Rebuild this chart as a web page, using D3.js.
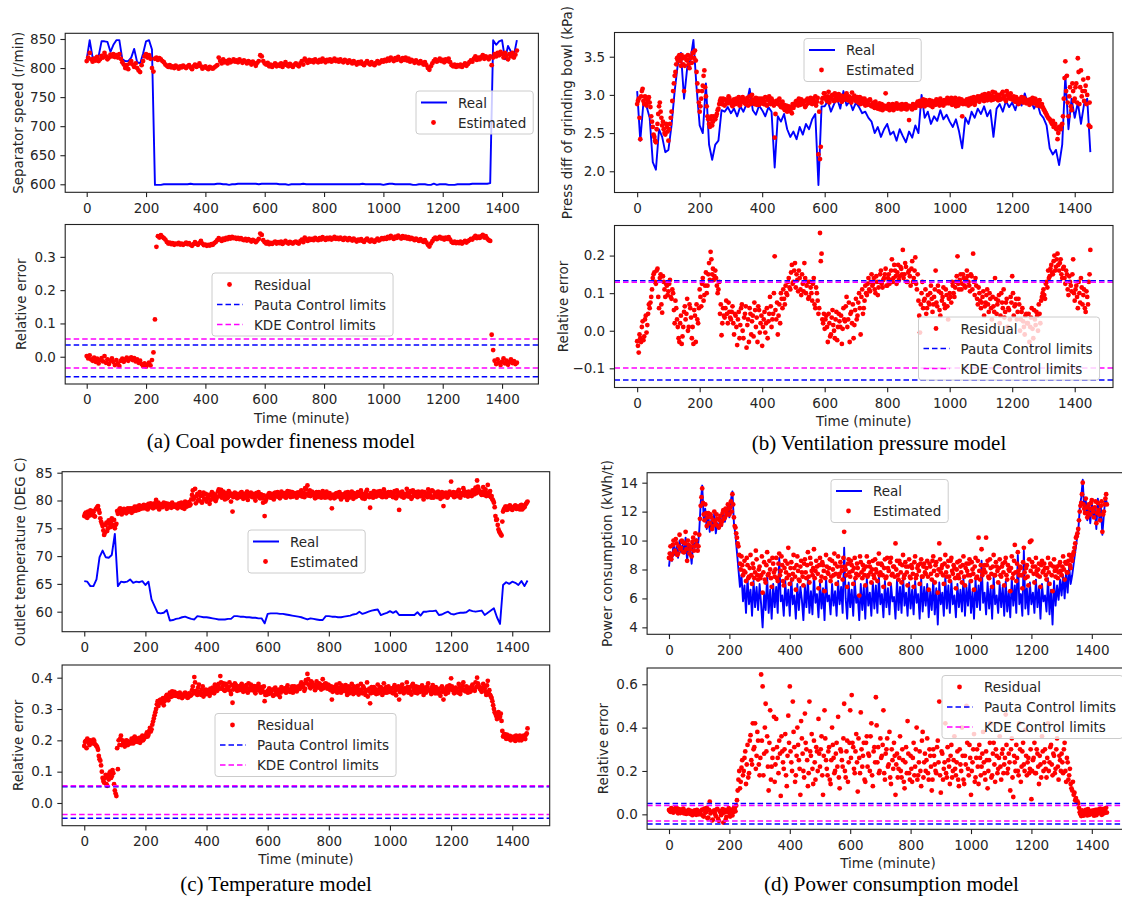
<!DOCTYPE html>
<html>
<head>
<meta charset="utf-8">
<title>Residual charts of four models</title>
<script src="https://cdn.jsdelivr.net/npm/d3@7"></script>
<style>
  body { margin: 0; background: #fff; }
  svg text { font-family: "DejaVu Sans", sans-serif; fill: #262626; }
</style>
</head>
<body>
<svg width="1122" height="898"></svg>
<script>
// sampling times in minutes
var t5 = d3.range(0, 1451, 5);
var t5b = d3.range(2.5, 1450, 5);   // in-between samples for the dense clouds
var t10 = d3.range(0, 1451, 10);
var xTicks = [0, 200, 400, 600, 800, 1000, 1200, 1400];

// (a) coal powder fineness: separator speed
var aReal = [815,848,818,818,820,846,846,845,828,840, 848,848,815,812,812,818,833,810,808,825, 846,848,832,
  599,599,599,600,600,600,600,600,600,600, 600,600,601,600,600,600,600,600,600,600,
  600,601,601,600,600,599,600,600,601,601, 601,601,601,601,601,600,601,601,601,601,
  601,601,600,600,600,599,600,600,600,600, 601,600,600,600,600,600,600,600,600,600,
  600,600,600,600,600,600,600,600,600,600, 601,600,600,600,600,600,600,599,600,601,
  601,600,600,600,600,600,600,599,599,600, 600,600,599,599,601,599,600,600,600,599,
  599,599,600,600,600,600,600,601,601,601, 601,601,601,
  602,848,840,846,848,815,838,828,822,848];
var aEst = [812,818,826,815,811,816,813,819,812,815, 821,818,826,820,815,818,823,820,824,819,
  822,818,824,816,810,806,800,805,798,808, 812,806,802,808,800,796,793,805,812,820, 824,818,822,816,800,794,
  816,818,814,817,815,812,810,806,804,802, 805,801,803,800,804,802,799,803,801,804,
  802,800,803,805,801,798,803,806,802,804, 808,803,799,801,803,800,798,802,800,799, 801,803,805,
  818,812,808,815,810,812,808,814,810,812, 815,811,813,810,815,812,809,813,811,808,
  812,810,806,811,808,804,809,812,822,820, 812,808,806,809,803,806,802,805,808,803,
  806,804,808,802,806,810,805,803,807,804, 802,806,
  808,805,803,808,812,806,816,812,809,814, 811,813,810,815,812,810,814,811,816,813,
  810,814,812,815,811,813,816,812,814,811, 815,812,810,814,812,809,813,811,808,812,
  809,806,810,808,811,807,805,809,812,808, 806,810,807,805,809,812,808,810,813,811,
  814,812,816,813,818,815,812,817,814,819, 815,812,817,814,818,813,816,811,814,812,
  809,813,810,808,812,809,806,810,805,800, 797,803,808,812,815,811,813,816,812,814,
  810,815,812,816,810,805,803,806,802,
  805,803,806,802,805,808,804,807,810,813, 811,816,820,814,818,815,819,822,816,820,
  818,815,820,805,818,824,820,826,822,828, 824,818,826,821,815,824,820,826,818,823, 830];
var aRes = [0.002,-0.005,0.004,-0.008,-0.012,-0.003,-0.015,-0.006,-0.020,-0.010,
  -0.004,-0.014,0.002,-0.018,-0.008,-0.022,-0.012,-0.005,-0.016,-0.025,
  -0.010,-0.020,-0.028,-0.012,-0.006,-0.015,-0.008,-0.003,-0.012,-0.006,
  -0.002,-0.010,-0.004,-0.014,-0.008,-0.018,-0.012,-0.022,-0.028,-0.020,
  -0.030,-0.024,-0.018,-0.026,-0.010,0.013,
  0.112,0.330,0.362,0.358,0.365,0.360,0.356,0.352,0.345,0.340,
  0.343,0.338,0.341,0.336,0.340,0.338,0.342,0.337,0.340,0.336,
  0.339,0.343,0.338,0.341,0.336,0.333,0.338,0.344,0.339,0.336,
  0.342,0.348,0.340,0.335,0.337,0.333,0.336,0.334,0.338,0.336, 0.341,0.345,0.350,
  0.356,0.352,0.348,0.355,0.351,0.357,0.353,0.359,0.355,0.360,
  0.356,0.358,0.354,0.357,0.353,0.356,0.352,0.350,0.354,0.349,
  0.353,0.350,0.346,0.351,0.348,0.344,0.349,0.354,0.370,0.366,
  0.350,0.344,0.340,0.345,0.338,0.342,0.339,0.343,0.346,0.340,
  0.344,0.341,0.346,0.339,0.343,0.348,0.343,0.340,0.345,0.342, 0.340,0.344,
  0.346,0.342,0.340,0.347,0.352,0.344,0.358,0.352,0.348,0.355,
  0.351,0.354,0.350,0.357,0.353,0.350,0.356,0.352,0.359,0.355,
  0.351,0.357,0.353,0.358,0.352,0.355,0.360,0.354,0.357,0.353,
  0.358,0.354,0.351,0.357,0.354,0.350,0.356,0.353,0.349,0.355,
  0.350,0.346,0.352,0.349,0.353,0.348,0.345,0.351,0.355,0.349,
  0.346,0.352,0.348,0.345,0.350,0.355,0.349,0.352,0.356,0.353,
  0.357,0.354,0.360,0.356,0.363,0.358,0.354,0.361,0.357,0.364,
  0.359,0.355,0.362,0.357,0.361,0.355,0.359,0.353,0.357,0.354,
  0.350,0.355,0.351,0.348,0.353,0.349,0.345,0.350,0.343,0.336,
  0.331,0.340,0.347,0.354,0.358,0.353,0.356,0.360,0.355,0.357,
  0.352,0.358,0.354,0.359,0.352,0.345,0.342,0.346,0.341,
  0.344,0.341,0.346,0.340,0.344,0.348,0.343,0.347,0.350,0.354,
  0.352,0.358,0.363,0.356,0.361,0.357,0.362,0.366,0.358,0.362,
  0.355,0.350,0.348,0.066,0.020,-0.012,-0.022,-0.008,-0.018,-0.025,
  -0.015,-0.005,-0.020,-0.012,-0.024,-0.016,-0.008,-0.019,-0.013,-0.022, -0.018];
var aPauta = [0.035, -0.060];
var aKde = [0.053, -0.034];

// (b) ventilation pressure: press diff of grinding bowl
var bReal = [3.05,2.40,2.90,2.85,2.70,2.12,2.02,2.55,2.45,2.25,
  2.28,2.60,3.05,3.40,3.55,2.95,3.35,3.45,3.72,3.10,
  2.60,2.50,3.15,2.35,2.15,2.35,2.40,2.80,2.78,2.84,
  2.76,2.82,2.72,2.85,2.78,2.88,3.08,2.80,2.74,2.86,
  2.80,2.72,2.84,2.78,2.05,2.72,2.65,2.75,2.55,2.45,
  2.52,2.42,2.58,2.48,2.62,2.55,2.68,2.75,1.82,2.85,
  2.85,2.92,2.78,2.88,2.95,2.82,3.05,2.86,2.92,2.80,
  2.90,2.84,2.76,2.78,2.70,2.65,2.50,2.58,2.45,2.55,
  2.62,2.48,2.52,2.40,2.55,2.46,2.38,2.52,2.44,2.60,
  2.50,3.00,2.70,2.78,2.62,2.72,2.66,2.80,2.68,2.74,
  2.65,2.58,2.68,2.52,2.30,2.70,2.62,2.78,2.70,2.82,
  2.75,2.85,2.72,2.80,2.45,2.82,2.88,2.78,2.92,2.84,
  2.90,2.80,2.95,2.86,3.02,2.88,2.92,2.82,2.90,2.75,
  2.70,2.60,2.30,2.22,2.28,2.08,2.35,3.25,2.55,2.95,
  2.70,2.90,2.62,2.88,2.95,2.25];
var bEst = [2.88,2.95,2.42,3.05,2.92,2.98,2.86,2.94,2.90,2.72,
  2.58,2.45,2.38,2.62,2.85,2.78,2.60,2.55,2.48,2.58,
  2.40,2.62,2.78,3.05,3.25,3.40,3.45,3.52,3.38,3.48,
  3.05,3.50,3.45,3.40,3.48,3.42,3.55,3.58,3.30,3.05,
  2.78,2.95,3.12,3.32,2.98,2.72,2.62,2.68,2.60,2.72,
  2.68,2.75,2.82,2.92,2.88,2.95,2.86,2.93,2.89,2.96,
  2.90,2.85,2.94,2.88,2.92,2.97,2.87,2.91,2.95,2.89,
  2.93,2.86,2.98,2.90,2.94,2.88,2.96,2.91,2.87,2.95,
  2.92,2.88,2.97,2.86,2.93,2.90,2.95,2.89,2.44,2.92,
  2.88,2.95,2.84,2.91,2.87,2.82,2.78,2.85,2.80,2.76,
  2.83,2.88,2.92,2.86,2.90,2.94,2.88,2.92,2.86,2.95,
  2.90,2.96,2.88,2.93,2.98,2.91,2.22,2.16,2.90,2.96,
  3.02,2.94,2.98,2.90,2.96,3.00,2.92,2.97,2.93,3.01,
  2.95,2.91,2.98,2.94,3.02,2.93,2.97,2.90,2.96,2.99,
  2.92,2.97,2.93,2.88,2.95,2.91,2.86,2.92,2.88,2.94,
  2.85,2.90,2.83,2.87,2.82,2.89,2.84,2.80,2.86,3.02,
  2.84,2.88,2.82,2.86,2.80,2.85,2.89,2.83,2.87,2.81,
  2.86,2.82,2.88,2.84,2.67,2.85,2.81,2.87,2.83,2.89,
  2.86,2.92,2.88,2.94,2.85,2.90,2.87,2.93,2.89,2.84,
  2.91,2.87,2.93,2.88,2.95,2.90,2.86,2.92,2.89,2.94,
  2.90,2.96,2.88,2.93,2.85,2.91,2.95,2.89,2.72,2.92,
  2.88,2.94,2.86,2.92,2.96,2.90,2.87,2.93,2.98,2.91,
  2.95,3.00,2.92,2.97,2.93,3.02,2.96,2.99,2.94,3.03,
  2.97,2.93,3.00,2.95,3.04,2.98,2.92,3.01,2.96,3.02,
  2.94,2.98,2.91,2.95,2.88,2.93,2.97,2.90,2.94,2.89,
  2.93,2.87,2.92,2.96,2.89,2.94,2.86,2.91,2.85,2.88,
  2.82,2.78,2.74,2.70,2.68,2.64,2.66,2.60,2.56,2.42,
  2.58,2.55,2.62,2.95,3.44,3.25,2.72,3.10,2.80,3.05,
  2.95,3.15,3.48,2.88,3.32,3.05,2.92,3.12,3.00,2.60, 2.58];
var bEst2 = [2.92,2.70,2.98,3.08,2.88,2.95,2.90,2.97,2.84,2.65,
  2.48,2.40,2.55,2.75,2.90,2.70,2.65,2.50,2.62,2.52,
  2.55,2.70,2.92,3.15,3.30,3.48,3.50,3.44,3.52,3.40,
  3.38,3.46,3.52,3.35,3.50,3.55,3.48,3.45,3.15,2.90,
  2.85,3.05,3.25,3.10,2.85,2.68,2.58,2.72,2.65,2.70,
  2.72,2.80,2.88,2.95,2.91,2.87,2.94,2.90,2.98,2.92,
  2.87,2.93,2.89,2.95,2.90,2.86,2.94,2.97,2.91,2.88,
  2.96,2.92,2.88,3.00,2.93,2.90,2.87,2.95,2.92,2.89,
  2.95,2.91,2.87,2.94,2.98,2.88,2.92,2.86,2.75,2.90,
  2.93,2.86,2.90,2.83,2.80,2.86,2.82,2.79,2.84,2.88,
  2.86,2.91,2.89,2.95,2.87,2.92,2.90,2.84,2.93,2.89,
  2.93,2.89,2.95,2.90,2.86,2.96,2.78,2.32,2.95,3.02,
  2.97,2.92,3.04,2.95,2.99,2.93,3.02,2.95,2.99,2.94,
  2.99,2.93,2.96,3.00,2.95,2.98,2.92,3.03,2.94,2.97,
  2.95,2.90,2.97,2.92,2.89,2.95,2.90,2.87,2.93,2.86,
  2.88,2.84,2.91,2.85,2.87,2.81,2.88,2.83,2.85,2.82,
  2.86,2.80,2.84,2.88,2.83,2.87,2.82,2.86,2.84,2.88,
  2.83,2.87,2.81,2.86,2.85,2.82,2.88,2.84,2.86,2.91,
  2.88,2.85,2.91,2.87,2.93,2.88,2.90,2.86,2.92,2.89,
  2.88,2.94,2.90,2.86,2.92,2.87,2.93,2.91,2.96,2.89,
  2.93,2.87,2.91,2.96,2.89,2.86,2.92,2.94,2.88,2.90,
  2.92,2.89,2.95,2.88,2.93,2.97,2.91,2.95,2.93,2.98,
  2.97,2.93,3.01,2.95,3.00,2.96,2.93,3.04,2.97,2.95,
  3.00,2.96,2.94,3.02,2.97,2.94,3.05,2.99,2.95,2.97,
  2.96,2.92,2.97,2.93,2.90,2.95,2.92,2.96,2.91,2.93,
  2.90,2.94,2.89,2.92,2.95,2.90,2.88,2.93,2.87,2.84,
  2.80,2.76,2.72,2.69,2.66,2.62,2.58,2.62,2.55,2.50,
  2.56,2.60,2.72,3.22,3.05,2.90,2.98,2.85,3.15,2.92,
  3.10,2.90,3.30,3.10,2.98,3.20,3.05,2.88,3.22,2.90];
var bRes = [-0.028,-0.058,-0.020,0.010,-0.025,0.030,-0.005,0.045,0.060,0.090,
  0.140,0.155,0.125,0.165,0.060,0.150,0.048,0.130,0.090,0.120,
  0.105,0.135,0.085,0.100,0.020,0.060,0.010,-0.030,0.040,-0.015,
  0.050,0.030,0.085,0.010,0.060,-0.020,-0.035,0.040,0.070,0.020,
  0.110,0.065,0.140,0.095,0.155,0.120,0.180,0.210,0.150,0.135,
  0.160,0.120,0.110,0.045,-0.012,0.060,0.035,0.080,0.020,0.050,
  0.030,0.065,-0.010,0.040,-0.038,0.050,0.015,0.070,-0.020,0.045,
  -0.045,0.030,0.060,-0.010,0.040,0.075,0.010,-0.030,0.055,0.020,
  -0.040,0.030,-0.005,0.060,0.025,0.090,0.010,0.045,0.198,0.030,
  -0.010,0.070,0.100,0.060,0.085,0.120,0.095,0.140,0.110,0.175,
  0.130,0.180,0.150,0.105,0.140,0.095,0.125,0.180,0.100,0.130,
  0.090,0.115,0.080,0.140,0.060,0.100,0.045,0.260,0.205,0.020,
  0.005,0.040,-0.030,0.020,-0.010,0.055,0.000,0.030,-0.025,0.045,
  0.010,-0.035,0.060,0.025,0.090,0.030,-0.030,0.050,0.070,0.015,
  0.085,0.040,0.100,-0.010,0.110,0.060,0.120,0.095,0.140,0.105,
  0.150,0.125,0.110,0.145,0.095,0.130,0.160,0.115,0.140,0.165,
  0.120,0.150,0.135,0.190,0.140,0.160,0.125,0.175,0.145,0.165,
  0.215,0.150,0.170,0.130,0.160,0.120,0.185,0.140,0.195,0.110,
  0.080,-0.005,0.100,0.060,0.085,0.045,0.095,0.070,0.120,0.050,
  0.090,0.160,0.065,0.105,0.040,0.080,0.115,0.060,0.095,0.030,
  0.100,0.075,0.120,0.090,0.130,0.198,0.110,0.150,0.125,0.140,
  0.115,0.160,0.130,0.105,0.145,0.205,0.095,0.120,0.070,0.100,
  0.060,0.090,0.040,0.075,0.110,0.050,0.085,0.030,0.065,0.140,
  0.045,0.080,0.020,0.100,0.060,0.035,0.075,0.010,0.055,0.090,
  0.145,0.040,0.070,0.030,0.085,0.000,0.050,0.025,-0.010,0.045,
  0.020,-0.030,0.035,0.005,0.055,0.015,0.040,0.070,0.020,0.090,
  0.110,0.085,0.130,0.160,0.145,0.175,0.150,0.200,0.170,0.205,
  0.160,0.190,0.140,0.170,0.125,0.150,0.095,0.130,0.105,0.190,
  0.080,0.120,0.060,0.100,0.140,0.070,0.110,0.050,0.090,0.130, 0.215];
var bRes2 = [-0.040,-0.010,-0.030,0.025,-0.015,0.040,0.015,0.070,0.075,0.110,
  0.150,0.130,0.160,0.090,0.140,0.070,0.145,0.110,0.125,0.095,
  0.125,0.090,0.110,0.055,0.080,0.030,-0.020,0.020,-0.035,0.010,
  0.065,0.045,0.000,0.070,0.035,0.010,0.055,-0.030,0.030,0.060,
  0.090,0.125,0.080,0.120,0.100,0.150,0.135,0.190,0.165,0.145,
  0.140,0.100,0.130,0.070,0.020,0.040,0.060,0.045,0.075,0.035,
  0.050,0.020,0.045,0.010,0.030,-0.020,0.060,0.000,0.035,0.065,
  0.015,-0.030,0.045,0.025,-0.015,0.055,0.035,0.065,-0.005,0.040,
  0.010,0.050,0.020,-0.020,0.045,0.065,0.030,0.100,0.055,0.075,
  0.040,0.020,0.085,0.110,0.070,0.100,0.130,0.115,0.155,0.125,
  0.160,0.115,0.135,0.160,0.110,0.150,0.105,0.140,0.120,0.085,
  0.130,0.100,0.125,0.070,0.115,0.080,0.060,0.185,0.030,0.045,
  0.030,0.010,0.045,-0.015,0.035,0.015,-0.020,0.050,0.010,0.025,
  0.040,0.005,0.030,0.065,0.010,0.075,0.045,0.020,-0.020,0.055,
  0.030,0.075,0.060,0.090,0.045,0.080,0.100,0.125,0.110,0.130,
  0.120,0.140,0.100,0.130,0.115,0.150,0.125,0.135,0.150,0.120,
  0.140,0.125,0.160,0.130,0.175,0.145,0.155,0.135,0.170,0.150,
  0.140,0.180,0.130,0.155,0.145,0.165,0.130,0.160,0.125,0.150,
  0.040,0.070,0.130,0.080,0.110,0.060,0.075,0.100,0.085,0.070,
  0.110,0.075,0.120,0.055,0.100,0.090,0.070,0.110,0.065,0.085,
  0.090,0.130,0.100,0.115,0.145,0.125,0.135,0.110,0.150,0.120,
  0.135,0.145,0.120,0.150,0.110,0.130,0.140,0.085,0.115,0.080,
  0.075,0.105,0.065,0.095,0.070,0.100,0.060,0.090,0.050,0.085,
  0.070,0.095,0.040,0.075,0.110,0.050,0.085,0.060,0.030,0.075,
  0.100,0.065,0.085,0.050,0.070,0.030,0.060,0.010,0.040,0.020,
  0.045,0.010,0.060,-0.020,0.030,0.050,0.000,0.045,0.080,0.100,
  0.095,0.125,0.115,0.140,0.165,0.155,0.185,0.160,0.190,0.175,
  0.180,0.150,0.165,0.140,0.160,0.110,0.145,0.120,0.150,0.100,
  0.110,0.090,0.130,0.075,0.115,0.095,0.060,0.105,0.070,0.150];
var bPauta = [0.133, -0.131];
var bKde = [0.129, -0.099];

// (c) temperature: outlet temperature
var cReal = [65.5,65.4,64.6,64.6,65.8,69.8,71.0,69.8,69.7,70.2,
  74.0,64.6,65.4,65.3,65.4,65.8,65.2,65.4,65.3,65.5,
  64.8,65.4,62.2,61.0,59.8,59.7,59.8,60.3,58.4,58.5,
  58.7,58.8,59.0,59.1,58.9,58.7,58.6,59.2,59.1,59.0,
  59.0,58.9,58.8,58.7,58.6,58.6,58.6,58.7,58.7,59.2,
  59.2,59.1,59.1,59.0,59.0,58.9,58.9,58.8,58.8,57.9,
  59.6,59.7,59.7,59.7,59.6,59.6,59.5,59.4,59.3,59.2,
  59.1,59.0,58.8,58.6,58.8,58.7,58.6,58.5,58.5,59.2,
  59.2,59.1,59.1,59.0,59.0,59.1,59.2,59.3,59.5,59.6,
  60.0,59.6,59.8,60.0,60.2,60.3,60.4,59.4,59.6,59.8,
  60.1,59.8,60.1,59.4,59.4,59.4,59.4,59.4,59.4,59.9,
  59.3,60.0,60.0,60.1,60.1,60.2,59.4,59.5,59.8,60.0,
  59.6,59.5,59.7,59.8,59.8,59.9,60.3,60.1,60.0,60.1,
  60.2,59.4,59.8,60.2,60.6,59.0,57.8,64.8,65.3,65.0,
  65.4,65.2,64.8,65.5,64.6,65.6];
var cEst = [77.2,77.8,76.9,77.5,78.2,77.4,77.9,77.1,78.6,79.0,
  77.8,76.2,75.4,73.8,75.6,74.5,76.4,75.2,76.8,75.6,
  75.0,75.8,77.6,78.4,78.2,77.8,78.5,77.9,78.3,78.0,
  78.6,77.8,78.4,78.9,78.2,78.7,79.1,78.5,78.8,79.2,
  78.6,79.0,79.4,78.8,79.2,78.6,79.5,80.1,79.0,78.4,
  79.3,78.8,79.6,79.1,78.5,79.4,79.0,78.7,79.3,78.9,
  79.2,78.6,79.5,79.0,78.7,79.3,79.8,78.9,79.4,79.1,
  80.2,81.8,80.6,79.5,81.2,80.1,80.8,79.6,81.4,80.3,
  79.8,80.6,79.4,80.9,81.3,80.2,79.9,80.7,82.0,81.2,
  80.5,81.6,80.2,81.0,80.6,81.4,79.8,78.0,80.9,81.2,
  80.4,81.1,80.7,81.5,80.3,80.8,81.3,80.1,80.9,81.4,
  80.6,81.2,80.0,80.8,81.5,80.4,81.0,79.6,77.2,80.2,
  80.8,81.3,80.5,81.0,80.2,81.4,80.7,81.1,80.4,81.6,
  80.9,81.3,80.5,81.7,81.0,80.6,81.5,80.8,81.2,80.5,
  81.4,80.9,81.8,81.1,80.6,82.0,82.7,81.3,80.8,81.6,
  81.0,80.4,81.5,80.8,81.2,80.5,81.7,80.9,81.3,80.6,
  81.1,80.4,78.6,81.0,80.5,81.3,80.7,81.5,80.2,81.0,
  80.6,81.4,80.1,81.2,80.8,81.6,80.3,81.0,80.7,81.5,
  80.9,81.8,80.4,81.1,80.6,81.9,80.8,78.7,81.3,80.5,
  81.2,80.7,81.6,80.9,81.4,80.6,82.0,81.1,80.8,81.5,
  80.9,81.3,80.6,81.7,80.4,81.2,78.3,81.0,81.6,80.5,
  81.1,82.1,80.7,81.4,80.3,81.8,80.9,81.5,80.6,81.2,
  80.8,81.6,80.2,81.3,80.9,82.0,81.1,80.5,81.7,80.8,
  81.4,80.6,81.2,80.3,81.5,79.0,80.8,81.3,80.7,81.6,
  83.4,81.0,80.6,81.4,80.8,81.9,80.5,81.2,82.2,80.9,
  81.5,80.7,81.3,80.9,81.8,81.1,82.3,83.6,82.0,81.4,
  81.0,82.4,81.6,80.8,82.8,81.3,80.6,80.2,79.6,77.2,
  76.6,74.8,74.2,73.7,78.0,78.6,78.9,78.4,79.0,78.6,
  78.3,78.8,79.1,78.5,78.9,78.4,79.2,78.6,78.8,79.4, 79.8];
var cEst2 = [77.6,77.0,78.0,77.3,77.7,78.1,77.2,78.4,78.8,78.3,
  76.8,75.8,74.6,74.2,76.0,75.0,75.8,76.2,75.4,76.5,
  75.6,78.1,77.9,78.6,77.5,78.1,78.3,77.7,78.6,78.2,
  78.0,78.6,78.1,78.5,78.9,78.3,78.7,79.0,78.6,78.9,
  79.1,78.4,79.0,79.5,78.9,79.3,78.8,79.2,79.6,79.0,
  78.9,79.4,79.0,79.5,79.1,78.8,79.3,79.6,78.9,79.2,
  78.8,79.3,78.9,79.6,79.1,78.5,79.4,79.0,79.7,79.3,
  81.0,80.2,82.1,80.8,80.0,81.5,79.8,80.9,80.3,81.2,
  80.4,81.0,80.1,81.5,80.6,81.1,80.3,81.6,80.8,81.9,
  81.0,80.7,81.3,80.4,81.7,80.9,81.2,80.6,81.4,80.8,
  81.2,80.6,81.4,80.9,81.1,80.5,81.6,80.8,81.2,80.7,
  81.0,80.5,81.3,80.9,80.6,81.1,80.4,80.9,79.8,80.6,
  81.1,80.6,81.2,80.4,81.3,80.9,81.5,80.6,81.2,80.8,
  81.2,80.6,81.4,80.9,81.6,81.0,80.7,81.3,80.9,81.4,
  81.0,81.6,80.7,81.4,82.2,81.2,80.9,81.8,81.1,81.4,
  80.8,81.3,80.6,81.5,81.0,80.7,81.2,80.5,81.6,80.9,
  81.3,80.8,81.0,80.4,81.2,80.9,81.4,80.6,81.1,80.8,
  81.2,80.7,81.5,80.5,81.0,80.9,81.3,80.6,81.2,80.9,
  81.5,80.7,81.2,80.3,81.6,81.0,80.6,81.3,80.8,81.7,
  80.8,81.3,81.0,81.7,80.7,81.2,81.5,80.6,81.3,81.0,
  81.5,80.8,81.2,80.6,81.8,80.9,81.4,80.7,81.2,81.0,
  80.8,81.4,81.0,81.7,80.6,81.3,81.0,80.8,81.6,80.9,
  81.3,80.7,81.5,81.0,80.6,81.4,80.9,81.8,80.5,81.2,
  81.0,81.6,80.8,81.2,80.6,81.0,81.4,80.5,81.1,81.3,
  81.0,81.5,80.7,81.1,81.6,80.8,81.3,81.0,81.7,81.2,
  81.0,81.6,81.2,80.8,81.5,81.9,81.3,82.5,81.6,81.2,
  81.6,81.0,82.0,81.4,80.9,81.7,80.8,80.0,78.8,76.5,
  75.6,74.4,73.9,76.2,78.4,78.9,78.3,78.7,79.1,78.5,
  78.7,79.0,78.5,78.9,78.6,79.1,78.4,78.9,79.2,79.6];
var cRes = [0.182,0.198,0.205,0.190,0.200,0.196,0.202,0.188,0.182,0.170,
  0.140,0.120,0.080,0.065,0.090,0.055,0.075,0.100,0.085,0.095,
  0.040,0.022,0.108,0.185,0.215,0.200,0.192,0.185,0.198,0.188,
  0.195,0.205,0.190,0.212,0.200,0.195,0.208,0.198,0.215,0.205,
  0.210,0.225,0.218,0.240,0.235,0.260,0.280,0.300,0.325,0.318,
  0.330,0.320,0.312,0.335,0.345,0.328,0.352,0.340,0.348,0.355,
  0.342,0.350,0.338,0.346,0.335,0.344,0.352,0.340,0.337,0.348,
  0.345,0.372,0.402,0.358,0.345,0.378,0.350,0.362,0.340,0.355,
  0.348,0.360,0.342,0.355,0.368,0.350,0.372,0.358,0.380,0.405,
  0.365,0.382,0.358,0.375,0.362,0.385,0.348,0.320,0.370,0.378,
  0.358,0.372,0.365,0.380,0.355,0.368,0.376,0.352,0.366,0.378,
  0.360,0.373,0.350,0.365,0.380,0.358,0.370,0.355,0.325,0.345,
  0.358,0.366,0.350,0.362,0.344,0.368,0.352,0.360,0.338,0.370,
  0.358,0.366,0.352,0.375,0.362,0.355,0.372,0.360,0.368,0.356,
  0.372,0.364,0.385,0.370,0.358,0.392,0.412,0.378,0.366,0.384,
  0.372,0.360,0.388,0.368,0.380,0.362,0.395,0.370,0.382,0.365,
  0.375,0.360,0.330,0.370,0.358,0.378,0.362,0.382,0.352,0.370,
  0.360,0.376,0.345,0.372,0.355,0.380,0.348,0.366,0.356,0.374,
  0.362,0.380,0.350,0.366,0.345,0.385,0.358,0.318,0.370,0.352,
  0.365,0.348,0.378,0.356,0.370,0.345,0.382,0.360,0.352,0.372,
  0.358,0.366,0.350,0.376,0.344,0.368,0.330,0.362,0.378,0.350,
  0.364,0.385,0.352,0.370,0.346,0.380,0.358,0.372,0.350,0.366,
  0.355,0.375,0.345,0.368,0.358,0.382,0.362,0.348,0.376,0.355,
  0.370,0.350,0.364,0.342,0.372,0.330,0.358,0.368,0.352,0.375,
  0.398,0.360,0.350,0.368,0.356,0.380,0.348,0.365,0.385,0.358,
  0.372,0.352,0.366,0.358,0.378,0.362,0.385,0.400,0.375,0.364,
  0.355,0.380,0.365,0.345,0.390,0.360,0.340,0.325,0.300,0.285,
  0.268,0.290,0.275,0.262,0.212,0.220,0.205,0.215,0.208,0.200,
  0.205,0.212,0.198,0.210,0.204,0.215,0.200,0.208,0.212,0.218, 0.238];
var cRes2 = [0.195,0.175,0.200,0.185,0.195,0.190,0.198,0.185,0.178,0.150,
  0.135,0.100,0.070,0.080,0.060,0.085,0.095,0.080,0.105,0.060,
  0.030,0.175,0.200,0.205,0.185,0.195,0.180,0.200,0.185,0.195,
  0.190,0.200,0.208,0.195,0.205,0.200,0.192,0.210,0.200,0.212,
  0.218,0.212,0.230,0.228,0.250,0.270,0.290,0.315,0.310,0.328,
  0.322,0.335,0.325,0.340,0.332,0.345,0.338,0.356,0.342,0.350,
  0.346,0.340,0.352,0.342,0.338,0.350,0.344,0.336,0.350,0.342,
  0.360,0.350,0.385,0.348,0.368,0.355,0.345,0.372,0.352,0.362,
  0.355,0.348,0.365,0.352,0.360,0.378,0.362,0.375,0.365,0.385,
  0.372,0.360,0.380,0.366,0.370,0.358,0.376,0.362,0.382,0.365,
  0.370,0.360,0.375,0.362,0.372,0.358,0.366,0.382,0.360,0.370,
  0.366,0.356,0.372,0.360,0.368,0.352,0.364,0.372,0.345,0.355,
  0.348,0.360,0.356,0.342,0.365,0.355,0.346,0.362,0.352,0.364,
  0.362,0.355,0.368,0.360,0.355,0.366,0.352,0.372,0.362,0.368,
  0.366,0.378,0.372,0.380,0.365,0.382,0.395,0.372,0.388,0.375,
  0.378,0.368,0.375,0.382,0.370,0.376,0.366,0.380,0.372,0.378,
  0.368,0.372,0.355,0.362,0.370,0.352,0.368,0.360,0.375,0.358,
  0.368,0.355,0.362,0.350,0.366,0.358,0.372,0.352,0.364,0.346,
  0.355,0.362,0.372,0.352,0.360,0.340,0.365,0.350,0.362,0.370,
  0.356,0.362,0.350,0.368,0.358,0.364,0.352,0.370,0.362,0.355,
  0.362,0.352,0.368,0.358,0.362,0.372,0.354,0.368,0.358,0.366,
  0.358,0.370,0.362,0.355,0.375,0.365,0.352,0.362,0.370,0.358,
  0.365,0.358,0.362,0.352,0.372,0.360,0.355,0.368,0.362,0.350,
  0.362,0.358,0.352,0.366,0.355,0.362,0.348,0.372,0.360,0.365,
  0.372,0.358,0.365,0.360,0.352,0.368,0.358,0.375,0.362,0.356,
  0.360,0.368,0.355,0.372,0.362,0.358,0.370,0.382,0.368,0.360,
  0.368,0.372,0.355,0.375,0.352,0.345,0.335,0.312,0.290,0.278,
  0.282,0.272,0.285,0.230,0.218,0.210,0.218,0.205,0.214,0.208,
  0.210,0.202,0.215,0.208,0.200,0.212,0.206,0.215,0.204,0.222];
var cPauta = [0.052, -0.049];
var cKde = [0.055, -0.037];

// (d) power consumption
var dReal = [8.2,9.2,8.6,9.8,9.0,9.6,8.8,10.0,9.2,9.7,
  9.1,10.2,8.6,9.8,9.3,8.4,9.9,9.5,10.1,9.4,
  10.6,12.6,13.8,11.5,12.2,10.8,11.8,10.6,11.4,10.9,
  11.9,10.5,11.2,10.8,11.6,11.0,12.0,11.3,11.8,12.4,
  11.6,12.8,13.4,11.2,10.4,9.2,8.0,6.8,7.6,5.8,
  6.9,5.0,7.4,5.6,6.6,4.8,7.2,5.4,6.8,5.2,
  7.0,5.6,4.0,6.4,5.2,7.5,5.0,6.6,4.6,7.0,
  5.4,6.8,5.0,8.8,5.8,6.2,4.8,7.2,5.5,6.6,
  4.8,7.4,5.6,6.2,4.6,7.0,5.2,6.8,5.9,4.5,
  6.9,5.4,7.3,5.0,6.5,4.9,7.6,5.7,6.3,4.7,
  7.1,5.3,6.7,4.5,7.4,5.8,6.2,4.9,7.0,5.5,
  6.5,4.8,7.2,5.6,6.8,5.0,9.5,6.0,4.6,7.1,
  5.4,6.6,4.8,7.3,5.7,6.2,4.5,7.0,5.2,6.8,
  4.6,7.4,5.5,6.4,4.8,7.1,5.3,6.9,5.0,7.5,
  5.6,6.3,4.7,7.2,5.4,6.7,4.9,7.0,5.8,6.1,
  4.6,7.3,5.2,6.8,5.0,7.6,5.5,6.4,4.8,7.1,
  5.3,6.6,4.9,7.2,5.7,6.3,4.6,7.4,5.1,6.8,
  5.5,7.0,4.7,6.5,5.2,7.3,4.9,6.7,4.2,7.1,
  5.6,6.4,4.8,7.5,5.3,6.9,5.0,7.2,5.6,6.2,
  4.7,7.0,5.4,6.6,5.1,7.4,4.8,6.8,5.5,7.2,
  5.0,6.5,4.6,7.3,5.4,6.9,5.2,8.6,5.7,6.4,
  4.9,7.1,5.3,6.7,4.6,7.5,5.6,6.2,5.0,7.0,
  5.4,6.8,4.8,7.2,5.1,6.5,4.7,7.4,5.5,6.9,
  5.0,9.0,5.6,6.3,4.8,9.3,5.3,6.7,4.9,7.1,
  5.6,6.4,5.0,7.3,5.4,6.8,4.6,7.0,5.8,6.2,
  5.1,7.4,4.9,6.6,4.2,7.2,5.5,6.9,5.9,7.3,
  6.2,7.6,6.0,7.8,6.4,8.2,7.0,7.6,8.4,9.2,
  10.0,10.6,12.2,13.0,14.2,12.0,12.8,11.4,12.4,11.2,
  12.6,11.6,12.2,10.8,12.9,11.5,12.3,10.4,11.8,13.0, 12.6];
var dEst = [8.8,9.6,9.0,10.0,9.3,9.8,9.1,10.4,9.5,9.9,
  9.2,10.6,8.6,9.7,9.4,8.9,10.2,9.6,10.0,9.3,
  10.4,12.4,13.6,11.8,12.5,11.0,11.9,11.2,11.6,11.0,
  12.0,11.1,11.5,10.9,11.7,11.3,12.1,11.6,12.0,12.5,
  11.8,12.7,13.2,11.6,10.9,10.2,9.6,8.4,8.9,7.6,
  8.6,7.2,8.3,7.5,9.0,7.0,8.1,7.8,8.7,7.3,
  8.2,7.6,6.4,8.5,7.1,9.2,7.7,8.0,6.8,8.4,
  7.5,8.8,7.2,9.1,7.9,8.3,6.9,8.6,7.4,9.5,
  7.0,8.5,7.7,8.1,6.6,8.9,7.3,8.2,7.8,6.9,
  8.7,7.4,9.2,7.1,8.4,7.6,9.4,7.9,8.2,6.7,
  8.8,7.5,8.3,6.5,9.0,7.8,8.1,7.2,8.6,7.6,
  8.4,7.0,8.9,7.7,8.2,7.3,10.6,8.0,6.8,8.7,
  7.5,8.3,7.0,8.8,7.7,8.1,6.2,8.5,7.4,8.0,
  6.9,8.9,7.6,8.2,7.1,8.6,7.4,8.0,7.2,9.1,
  7.8,8.3,6.8,8.7,7.5,8.1,7.0,8.8,7.7,8.2,
  9.8,8.6,7.3,8.4,7.1,9.0,7.6,8.2,6.9,8.7,
  7.4,8.1,6.8,8.9,7.6,8.3,7.0,8.7,7.5,8.4,
  7.7,8.6,6.6,8.2,7.3,8.9,7.1,8.5,6.4,9.8,
  7.8,8.3,7.0,9.0,7.5,8.6,7.2,8.8,7.7,8.1,
  6.7,8.5,7.4,8.2,7.1,8.9,6.9,8.4,7.6,8.7,
  7.2,8.0,6.6,8.8,7.5,10.2,7.3,9.4,7.8,8.3,
  10.2,8.6,7.4,8.1,6.8,9.0,7.6,8.2,7.1,8.7,
  7.5,8.4,6.9,8.8,7.3,8.0,6.5,8.9,7.7,9.7,
  7.2,9.2,7.6,8.1,6.7,9.5,7.4,8.3,6.9,9.9,
  10.0,8.2,7.1,8.8,7.6,8.4,6.8,8.6,7.9,8.1,
  7.3,8.8,7.0,8.3,6.5,8.7,7.5,8.2,7.8,8.5,
  7.6,8.9,7.3,8.4,7.8,9.0,8.1,8.6,9.2,9.8,
  10.3,10.8,12.0,12.6,14.0,12.2,12.9,11.6,12.5,11.8,
  12.8,12.0,12.3,11.2,12.6,11.8,12.4,10.6,12.0,12.9, 12.5];
var dEst2 = [9.1,8.7,9.7,9.2,10.1,9.0,9.6,9.4,10.0,9.2,
  9.8,9.4,10.0,9.1,9.6,9.9,9.3,10.5,9.7,9.6,
  11.5,13.0,12.6,11.4,11.9,11.6,11.2,11.8,10.8,11.4,
  11.3,11.8,11.0,11.4,11.1,11.9,11.5,12.2,11.8,12.2,
  12.3,12.0,12.5,11.0,10.5,9.8,9.0,8.0,8.3,7.9,
  7.8,8.8,7.4,8.1,7.6,8.4,7.4,9.3,7.6,8.0,
  7.4,8.9,7.8,7.3,8.3,7.6,8.6,7.4,8.8,7.8,
  8.0,7.4,8.4,7.6,8.9,7.2,8.1,7.8,8.4,7.6,
  8.1,7.3,9.0,7.5,8.3,7.9,7.2,8.6,7.5,8.4,
  7.8,8.3,7.5,8.8,7.9,8.1,7.4,8.6,7.7,8.3,
  7.2,8.5,7.9,7.4,8.2,7.7,8.7,7.5,8.0,9.1,
  7.7,8.2,7.5,8.5,7.9,8.8,8.2,7.6,8.4,7.8,
  8.6,7.9,8.1,7.4,8.4,7.6,8.9,7.8,8.3,7.6,
  8.2,7.5,8.5,7.8,8.0,7.6,8.7,7.8,8.4,7.6,
  8.4,7.6,8.1,7.4,8.8,7.9,8.5,7.6,8.2,7.5,
  8.0,7.6,8.6,7.8,8.3,7.4,8.5,7.8,8.2,7.5,
  8.3,7.7,8.5,7.4,8.1,7.9,8.4,7.5,8.2,7.8,
  8.1,7.5,8.4,7.7,8.6,7.9,8.3,7.6,8.0,8.7,
  8.1,7.6,8.4,7.8,8.2,7.5,8.6,7.9,8.3,7.4,
  8.0,7.6,8.6,7.8,8.3,7.5,8.1,7.9,8.4,7.6,
  8.5,7.7,8.2,7.4,8.6,7.9,8.3,7.6,8.0,7.8,
  8.3,7.5,8.7,7.7,8.2,7.6,8.5,7.9,8.1,7.6,
  8.2,7.8,8.5,7.6,8.3,7.9,8.1,7.4,8.6,7.8,
  8.4,7.9,8.2,7.6,8.5,7.8,8.1,7.5,8.7,7.9,
  8.5,7.7,8.2,7.9,8.0,7.5,8.3,7.8,8.4,7.6,
  8.1,7.8,8.4,7.6,8.2,7.9,8.0,7.4,8.3,7.9,
  8.2,8.0,8.5,7.8,8.6,8.3,8.8,9.0,9.5,10.2,
  10.5,11.4,12.4,13.2,12.5,11.9,12.3,11.9,12.2,12.6,
  12.2,11.6,12.7,11.9,12.1,11.4,12.7,11.8,12.5,13.2];
var dRes = [0.020,0.012,0.025,0.008,0.018,0.030,0.005,0.015,0.022,0.010,
  0.004,0.016,0.008,0.020,0.002,0.012,0.006,0.018,-0.002,0.010,
  0.014,0.000,0.022,-0.010,0.008,0.030,-0.015,0.058,0.012,-0.025,
  0.018,-0.008,0.025,-0.030,0.010,0.004,-0.038,0.020,-0.012,0.015,
  0.006,0.022,-0.005,0.030,0.014,0.065,0.160,0.120,0.215,0.180,
  0.260,0.140,0.320,0.190,0.365,0.230,0.300,0.420,0.270,0.340,
  0.180,0.645,0.590,0.280,0.510,0.360,0.110,0.480,0.220,0.300,
  0.150,0.440,0.260,0.340,0.085,0.290,0.210,0.370,0.130,0.455,
  0.590,0.240,0.520,0.310,0.180,0.400,0.250,0.090,0.350,0.200,
  0.465,0.300,0.130,0.520,0.270,0.210,0.340,0.160,0.290,0.440,
  0.220,0.360,0.090,0.480,0.250,0.180,0.310,0.140,0.400,0.260,
  0.200,0.330,0.450,0.120,0.290,0.220,0.510,0.170,0.340,0.240,
  0.480,0.550,0.310,0.190,0.370,0.105,0.260,0.470,0.220,0.330,
  0.150,0.360,0.280,0.200,0.420,0.130,0.310,0.540,0.240,0.190,
  0.350,0.270,0.480,0.160,0.300,0.220,0.380,0.140,0.250,0.330,
  0.090,0.280,0.210,0.360,0.170,0.250,0.120,0.310,0.430,0.190,
  0.270,0.150,0.330,0.220,0.400,0.180,0.290,0.130,0.380,0.240,
  0.200,0.350,0.160,0.270,0.110,0.300,0.230,0.190,0.340,0.520,
  0.100,0.280,0.210,0.420,0.170,0.250,0.140,0.320,0.200,0.360,
  0.180,0.290,0.130,0.230,0.400,0.160,0.270,0.500,0.210,0.320,
  0.090,0.240,0.370,0.170,0.300,0.140,0.260,0.220,0.380,0.190,
  0.290,0.120,0.250,0.420,0.180,0.330,0.150,0.270,0.210,0.360,
  0.160,0.300,0.230,0.460,0.190,0.280,0.110,0.350,0.080,0.240,
  0.320,0.200,0.420,0.150,0.290,0.230,0.390,0.180,0.260,0.210,
  0.070,0.250,0.330,0.190,0.280,0.140,0.230,0.360,0.200,0.300,
  0.170,0.420,0.240,0.320,0.180,0.270,0.210,0.350,0.160,0.250,
  0.280,0.190,0.330,0.150,0.240,0.180,0.140,0.110,0.090,0.065,
  0.058,0.050,0.010,-0.008,0.012,0.004,0.020,-0.005,0.015,0.008,
  0.002,0.018,0.010,-0.004,0.022,0.006,0.014,0.000,0.025,0.012, 0.008];
var dRes2 = [0.015,0.028,0.010,0.020,0.032,0.012,0.024,0.006,0.018,0.026,
  0.010,0.002,0.014,0.008,0.016,-0.004,0.012,0.004,0.020,0.000,
  0.006,0.018,-0.006,0.026,0.010,-0.018,0.020,0.004,-0.028,0.014,
  0.002,0.022,-0.020,0.016,-0.004,0.024,0.008,-0.025,0.012,0.028,
  -0.010,0.018,0.010,0.026,0.040,0.110,0.200,0.150,0.250,0.200,
  0.290,0.230,0.170,0.340,0.250,0.420,0.310,0.210,0.380,0.230,
  0.260,0.340,0.180,0.400,0.290,0.220,0.330,0.160,0.260,0.450,
  0.230,0.310,0.190,0.280,0.360,0.240,0.300,0.180,0.270,0.330,
  0.290,0.200,0.380,0.150,0.270,0.320,0.210,0.430,0.280,0.170,
  0.330,0.250,0.190,0.290,0.370,0.140,0.240,0.310,0.200,0.280,
  0.300,0.180,0.270,0.350,0.210,0.290,0.160,0.250,0.320,0.190,
  0.280,0.220,0.170,0.300,0.250,0.350,0.200,0.290,0.150,0.330,
  0.260,0.330,0.210,0.290,0.240,0.350,0.190,0.300,0.270,0.160,
  0.330,0.220,0.270,0.360,0.180,0.290,0.240,0.410,0.310,0.200,
  0.260,0.320,0.190,0.280,0.350,0.230,0.170,0.300,0.210,0.270,
  0.230,0.170,0.260,0.200,0.300,0.150,0.240,0.190,0.280,0.160,
  0.210,0.260,0.180,0.300,0.160,0.240,0.200,0.340,0.170,0.280,
  0.250,0.190,0.300,0.220,0.160,0.270,0.200,0.310,0.240,0.180,
  0.290,0.160,0.240,0.190,0.310,0.220,0.270,0.170,0.250,0.210,
  0.240,0.160,0.300,0.200,0.270,0.140,0.230,0.330,0.180,0.260,
  0.200,0.300,0.150,0.260,0.220,0.320,0.180,0.280,0.240,0.160,
  0.250,0.200,0.330,0.170,0.280,0.230,0.300,0.190,0.260,0.220,
  0.280,0.190,0.260,0.320,0.210,0.240,0.300,0.170,0.270,0.200,
  0.260,0.180,0.300,0.220,0.330,0.200,0.270,0.240,0.190,0.300,
  0.200,0.260,0.190,0.300,0.220,0.270,0.170,0.290,0.240,0.210,
  0.260,0.200,0.310,0.230,0.280,0.190,0.300,0.220,0.270,0.200,
  0.240,0.300,0.200,0.260,0.160,0.210,0.120,0.150,0.100,0.075,
  0.060,0.030,0.000,0.018,-0.006,0.010,0.002,0.024,-0.002,0.016,
  0.010,-0.006,0.020,0.004,0.012,0.026,-0.002,0.016,0.006,0.030];
var dPauta = [0.050, -0.045];
var dKde = [0.041, -0.031];

var svg = d3.select("svg");
svg.append("rect").attr("width", 1122).attr("height", 898).attr("fill", "#fff");

var BLUE = "#0000ff", RED = "#ff0000", MAG = "#ff00ff";
var FS = 13.5;

function drawLegend(g, lx, ly, items) {
  var lg = g.append("g").attr("transform", "translate(" + lx + "," + ly + ")");
  var box = lg.append("rect").attr("rx", 3).attr("fill", "#fff").attr("fill-opacity", 0.8)
    .attr("stroke", "#cccccc").attr("stroke-width", 1);
  var maxW = 0;
  items.forEach(function(it, i) {
    var cy = 11.5 + i * 20;
    if (it.kind == "dot") {
      lg.append("circle").attr("cx", 17.5).attr("cy", cy).attr("r", 2.4).attr("fill", RED);
    } else {
      lg.append("line").attr("x1", 5).attr("x2", 31).attr("y1", cy).attr("y2", cy)
        .attr("stroke", it.color).attr("stroke-width", it.kind == "dash" ? 1.6 : 2)
        .attr("stroke-dasharray", it.kind == "dash" ? "5.5,3" : null);
    }
    var tx = lg.append("text").attr("x", 42).attr("y", cy).attr("dominant-baseline", "central")
      .attr("font-size", FS).text(it.label);
    maxW = Math.max(maxW, tx.node().getComputedTextLength());
  });
  box.attr("width", 42 + maxW + 7).attr("height", items.length * 20 + 3);
}

function drawPanel(p) {
  var x = d3.scaleLinear().domain([-72.5, 1522.5]).range([p.left, p.right]);
  var y = d3.scaleLinear().domain(p.yDomain).range([p.bottom, p.top]);
  var g = svg.append("g");
  g.append("clipPath").attr("id", "clip" + p.id).append("rect")
    .attr("x", p.left).attr("y", p.top).attr("width", p.right - p.left).attr("height", p.bottom - p.top);
  var plot = g.append("g").attr("clip-path", "url(#clip" + p.id + ")");

  p.series.forEach(function(s) {
    if (s.kind == "line") {
      var line = d3.line().x(function(d, i) { return x(s.t[i]); }).y(function(d) { return y(d); });
      plot.append("path").datum(s.values).attr("d", line)
        .attr("fill", "none").attr("stroke", BLUE).attr("stroke-width", 1.9).attr("stroke-linejoin", "round");
    } else {
      plot.append("g").selectAll("circle").data(s.values).enter().append("circle")
        .attr("cx", function(d, i) { return x(s.t[i]); })
        .attr("cy", function(d) { return y(d); })
        .attr("r", 2.4).attr("fill", RED);
    }
  });

  if (p.pauta) {
    [[p.pauta, BLUE], [p.kde, MAG]].forEach(function(pair) {
      pair[0].forEach(function(v) {
        plot.append("line").attr("x1", p.left).attr("x2", p.right).attr("y1", y(v)).attr("y2", y(v))
          .attr("stroke", pair[1]).attr("stroke-width", 1.5).attr("stroke-dasharray", "5.5,3");
      });
    });
  }

  // frame
  g.append("rect").attr("x", p.left).attr("y", p.top).attr("width", p.right - p.left)
    .attr("height", p.bottom - p.top).attr("fill", "none").attr("stroke", "#222").attr("stroke-width", 1.1);

  var xa = g.append("g").attr("transform", "translate(0," + p.bottom + ")")
    .call(d3.axisBottom(x).tickValues(xTicks).tickSize(4.8).tickPadding(6).tickFormat(d3.format("d")));
  var ya = g.append("g").attr("transform", "translate(" + p.left + ",0)")
    .call(d3.axisLeft(y).tickValues(p.yTicks).tickSize(4.8).tickPadding(4.5).tickFormat(d3.format(p.yFmt)));
  [xa, ya].forEach(function(a) {
    a.select(".domain").remove();
    a.attr("font-family", null).attr("font-size", FS);
    a.selectAll("line").attr("stroke", "#222").attr("stroke-width", 1.1);
    a.selectAll("text").attr("fill", "#262626");
  });

  g.append("text").attr("transform", "translate(" + p.yLabelX + "," + ((p.top + p.bottom) / 2) + ") rotate(-90)")
    .attr("text-anchor", "middle").attr("dominant-baseline", "central").attr("font-size", FS).text(p.yLabel);
  if (p.xLabel) {
    g.append("text").attr("x", x(725)).attr("y", p.bottom + 33.5)
      .attr("text-anchor", "middle").attr("dominant-baseline", "central").attr("font-size", FS).text("Time (minute)");
  }
  drawLegend(g, p.legend[0], p.legend[1], p.legendItems);
}

var topItems = [{kind: "line", color: BLUE, label: "Real"}, {kind: "dot", label: "Estimated"}];
var resItems = [{kind: "dot", label: "Residual"}, {kind: "dash", color: BLUE, label: "Pauta Control limits"},
  {kind: "dash", color: MAG, label: "KDE Control limits"}];

drawPanel({id: "a1", left: 65.2, right: 538.4, top: 33.3, bottom: 192.3, yDomain: [586.2, 859.8],
  yTicks: [600, 650, 700, 750, 800, 850], yFmt: "d", yLabel: "Separator speed (r/min)", yLabelX: 18,
  series: [{kind: "line", t: t10, values: aReal}, {kind: "dot", t: t5, values: aEst}],
  legend: [416, 91], legendItems: topItems});
drawPanel({id: "a2", left: 65.2, right: 538.4, top: 224.5, bottom: 384, yDomain: [-0.0819, 0.3972],
  yTicks: [0, 0.1, 0.2, 0.3], yFmt: ".1f", yLabel: "Relative error", yLabelX: 21, xLabel: true,
  series: [{kind: "dot", t: t5, values: aRes}], pauta: aPauta, kde: aKde,
  legend: [212, 273], legendItems: resItems});

drawPanel({id: "b1", left: 614.5, right: 1113, top: 32.5, bottom: 192.5, yDomain: [1.722, 3.817],
  yTicks: [2.0, 2.5, 3.0, 3.5], yFmt: ".1f", yLabel: "Press diff of grinding bowl (kPa)", yLabelX: 567,
  series: [{kind: "line", t: t10, values: bReal}, {kind: "dot", t: t5, values: bEst},
    {kind: "dot", t: t5b, values: bEst2}],
  legend: [804, 38.5], legendItems: topItems});
drawPanel({id: "b2", left: 614.5, right: 1113, top: 225.5, bottom: 387.5, yDomain: [-0.151, 0.280],
  yTicks: [-0.1, 0, 0.1, 0.2], yFmt: ".1f", yLabel: "Relative error", yLabelX: 563, xLabel: true,
  series: [{kind: "dot", t: t5, values: bRes}, {kind: "dot", t: t5b, values: bRes2}], pauta: bPauta, kde: bKde,
  legend: [918.5, 317], legendItems: resItems});

drawPanel({id: "c1", left: 62.1, right: 549.7, top: 471.7, bottom: 631.7, yDomain: [56.4, 85.18],
  yTicks: [60, 65, 70, 75, 80, 85], yFmt: "d", yLabel: "Outlet temperature (DEG C)", yLabelX: 19.6,
  series: [{kind: "line", t: t10, values: cReal}, {kind: "dot", t: t5, values: cEst},
    {kind: "dot", t: t5b, values: cEst2}],
  legend: [248, 530], legendItems: topItems});
drawPanel({id: "c2", left: 62.1, right: 549.7, top: 665, bottom: 825.7, yDomain: [-0.0725, 0.4405],
  yTicks: [0, 0.1, 0.2, 0.3, 0.4], yFmt: ".1f", yLabel: "Relative error", yLabelX: 18, xLabel: true,
  series: [{kind: "dot", t: t5, values: cRes}, {kind: "dot", t: t5b, values: cRes2}], pauta: cPauta, kde: cKde,
  legend: [215, 713.5], legendItems: resItems});

drawPanel({id: "d1", left: 647.1, right: 1128.8, top: 472.7, bottom: 634.3, yDomain: [3.52, 14.69],
  yTicks: [4, 6, 8, 10, 12, 14], yFmt: "d", yLabel: "Power consumption (kWh/t)", yLabelX: 606.7,
  series: [{kind: "line", t: t5, values: dReal}, {kind: "dot", t: t5, values: dEst},
    {kind: "dot", t: t5b, values: dEst2}],
  legend: [831, 479.5], legendItems: topItems});
drawPanel({id: "d2", left: 647.1, right: 1128.8, top: 668, bottom: 829.3, yDomain: [-0.069, 0.675],
  yTicks: [0, 0.2, 0.4, 0.6], yFmt: ".1f", yLabel: "Relative error", yLabelX: 603, xLabel: true,
  series: [{kind: "dot", t: t5, values: dRes}, {kind: "dot", t: t5b, values: dRes2}], pauta: dPauta, kde: dKde,
  legend: [942, 675.5], legendItems: resItems});

// sub-figure captions
var captions = [["(a) Coal powder fineness model", 281, 441], ["(b) Ventilation pressure model", 879, 443],
  ["(c) Temperature model", 276, 884], ["(d) Power consumption model", 891.5, 884]];
captions.forEach(function(c) {
  svg.append("text").attr("x", c[1]).attr("y", c[2]).attr("text-anchor", "middle")
    .attr("dominant-baseline", "central").style("font-family", "'Liberation Serif', 'Times New Roman', serif")
    .style("fill", "#000").attr("font-size", 21).text(c[0]);
});
</script>
</body>
</html>
